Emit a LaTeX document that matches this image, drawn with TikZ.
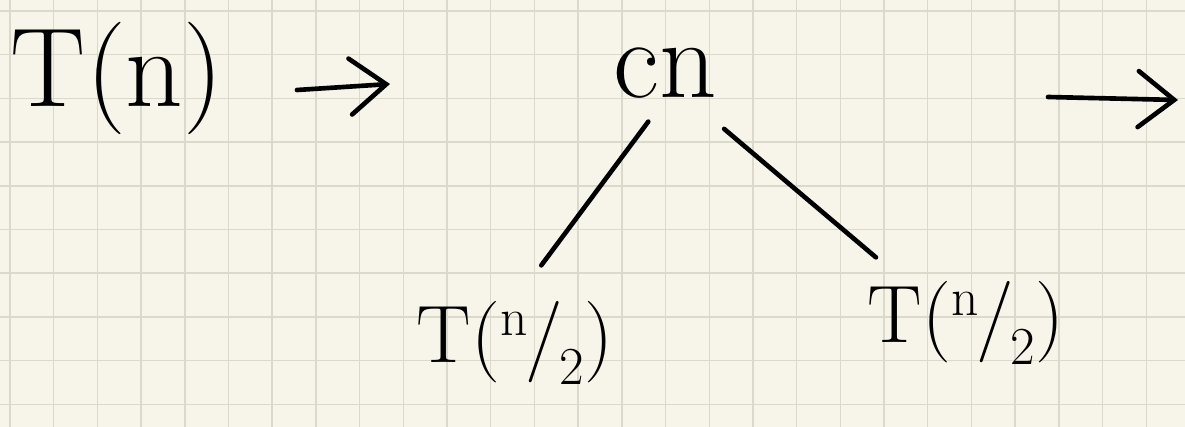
\documentclass[tikz,border=0pt]{standalone}
\usepackage{fontspec}
\usetikzlibrary{arrows.meta}

\definecolor{paper}{HTML}{F7F5E9}
\definecolor{gridline}{HTML}{DBD9CC}

% n over 2 written as a slashed fraction
\newcommand{\halfarg}{\raisebox{0.32em}{\fontsize{38}{38}\selectfont n}\kern-0.02em/\kern-0.04em\raisebox{-0.27em}{\fontsize{38}{38}\selectfont 2}}

\begin{document}
\begin{tikzpicture}[
  x=0.025cm,
  y=-0.025cm,
  ink/.style={draw=black,line width=3.3pt,line cap=round,line join=round},
  arrow/.style={ink,-{Straight Barb[length=9mm,width=14mm,line cap=round]}},
  grid/.style={draw=gridline,line width=1pt},
  bigterm/.style={inner sep=0pt,font=\fontsize{80}{82}\selectfont},
  midterm/.style={inner sep=0pt,font=\fontsize{58}{60}\selectfont}
]

% Paper and squared grid
\fill[paper] (0,0) rectangle (1185,427);
\useasboundingbox (0,0) rectangle (1185,427);
\foreach \gx in {0,...,26}
  \draw[grid] ({10+43.7*\gx},0) -- ({10+43.7*\gx},427);
\foreach \gy in {0,...,9}
  \draw[grid] (0,{11+43.7*\gy}) -- (1185,{11+43.7*\gy});

% Terms
\node[bigterm,anchor=base] (tn) at (117,106) {T(n)};
\node[bigterm,anchor=base] (cn) at (665,98) {cn};
\node[midterm,anchor=base] (lhalf) at (515,362) {T(\halfarg)};
\node[midterm,anchor=base] (rhalf) at (966,342) {T(\halfarg)};

% Arrows
\coordinate (tnout) at (297,90);
\coordinate (cnin) at (390,84);
\coordinate (nextout) at (1048,97);
\coordinate (nextin) at (1178,100);
\draw[arrow] (tnout) -- (cnin);
\draw[arrow] (nextout) -- (nextin);

% Recursion tree branches
\draw[ink,shorten <=0.7cm,shorten >=1.1cm] (cn.south) -- (lhalf.north);
\draw[ink,shorten <=1.15cm,shorten >=0.9cm]
  ([xshift=0.6cm]cn.south) -- ([xshift=0.9cm]rhalf.north west);

\end{tikzpicture}
\end{document}
